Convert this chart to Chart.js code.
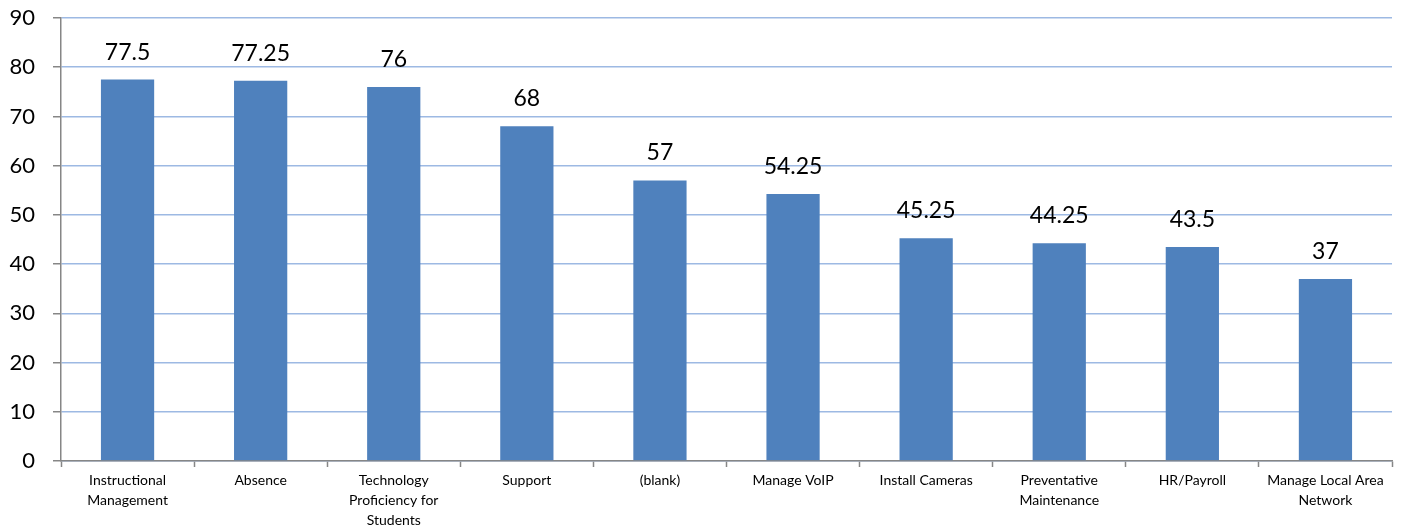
<!DOCTYPE html>
<html>
<head>
<meta charset="utf-8">
<script src="https://cdn.jsdelivr.net/npm/chart.js@4/dist/chart.umd.min.js"></script>
<style>
html,body{margin:0;padding:0;background:#fff;}
#wrap{width:1406px;height:527px;}
</style>
</head>
<body>
<div id="wrap"><canvas id="c" width="1406" height="527" style="width:1406px;height:527px"></canvas></div>
<script>
const categories = [
  ["Instructional", "Management"],
  "Absence",
  ["Technology", "Proficiency for", "Students"],
  "Support",
  "(blank)",
  "Manage VoIP",
  "Install Cameras",
  ["Preventative", "Maintenance"],
  "HR/Payroll",
  ["Manage Local Area", "Network"]
];
const values = [77.5, 77.25, 76, 68, 57, 54.25, 45.25, 44.25, 43.5, 37];
const yTicks = [0, 10, 20, 30, 40, 50, 60, 70, 80, 90];

const FONT = "Lato, 'Open Sans', sans-serif";

const valueLabels = {
  id: 'valueLabels',
  afterDatasetsDraw(chart) {
    const ctx = chart.ctx;
    const meta = chart.getDatasetMeta(0);
    ctx.save();
    ctx.font = "23px " + FONT;
    ctx.fillStyle = "#000";
    ctx.textAlign = "center";
    ctx.textBaseline = "alphabetic";
    meta.data.forEach((bar, i) => {
      ctx.fillText(String(values[i]), bar.x, bar.y - 20);
    });
    ctx.restore();
  }
};

new Chart(document.getElementById('c'), {
  type: 'bar',
  data: {
    labels: categories,
    datasets: [{
      data: values,
      backgroundColor: '#4F81BD',
      borderWidth: 0,
      categoryPercentage: 1,
      barPercentage: 0.4
    }]
  },
  options: {
    responsive: false,
    animation: false,
    devicePixelRatio: 1,
    layout: { padding: { top: 18, right: 14, left: 0, bottom: 0 } },
    plugins: { legend: { display: false }, tooltip: { enabled: false } },
    scales: {
      x: {
        offset: true,
        grid: {
          display: true,
          drawOnChartArea: false,
          drawTicks: true,
          offset: true,
          tickLength: 6,
          tickColor: '#868686',
          tickWidth: 1.5,
          color: '#868686'
        },
        border: { display: true, color: '#868686', width: 1.5 },
        ticks: {
          color: '#000',
          font: { family: FONT, size: 14, lineHeight: 1.43 },
          padding: 3,
          maxRotation: 0,
          autoSkip: false
        },
        afterFit(scale) { scale.height = 66; }
      },
      y: {
        min: 0,
        max: 90,
        afterBuildTicks(scale) { scale.ticks = yTicks.map(v => ({ value: v })); },
        grid: {
          color: '#9DB9E3',
          lineWidth: 1.5,
          tickColor: '#868686',
          tickLength: 8,
          tickWidth: 1.5
        },
        border: { display: true, color: '#868686', width: 1.5 },
        ticks: {
          color: '#000',
          font: { family: FONT, size: 22 },
          padding: 18
        },
        afterFit(scale) {
          scale.width = 61;
          scale.paddingTop = 0;
          scale.paddingBottom = 0;
        }
      }
    }
  },
  plugins: [valueLabels]
});
</script>
</body>
</html>
